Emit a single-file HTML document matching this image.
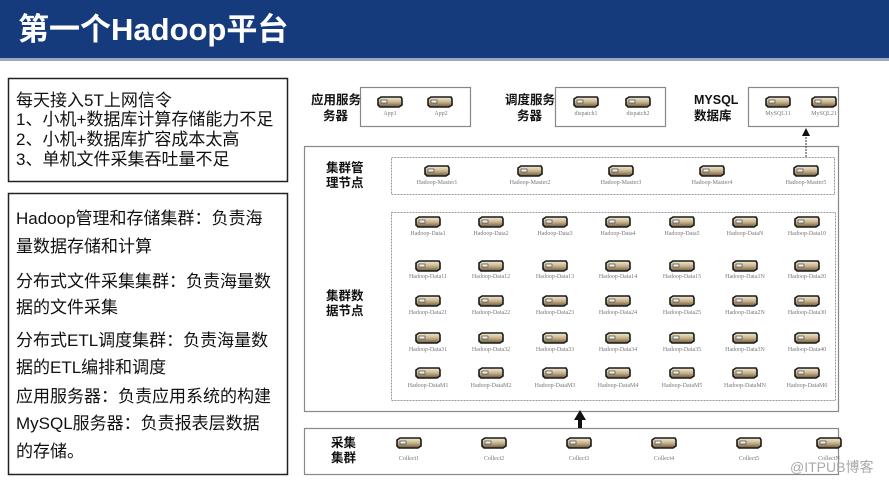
<!DOCTYPE html>
<html><head><meta charset="utf-8"><style>
body{margin:0;background:#fff}
svg{display:block}
.cj{font-family:"Liberation Sans","Noto Sans CJK SC",sans-serif}
.lb{font-family:"Liberation Serif","Noto Serif CJK SC",serif;font-size:6px;fill:#777;text-anchor:middle}
.hd{font-family:"Liberation Sans","Noto Sans CJK SC",sans-serif;font-weight:bold;font-size:12.5px;fill:#111}
.lt{font-family:"Liberation Sans","Noto Sans CJK SC",sans-serif;font-size:17px;fill:#111}
</style></head><body>
<svg width="889" height="484" viewBox="0 0 889 484" xmlns="http://www.w3.org/2000/svg">
<defs>
<linearGradient id="g" x1="0" y1="0" x2="0" y2="1"><stop offset="0" stop-color="#f4ecd8"/><stop offset="0.5" stop-color="#c9b48c"/><stop offset="1" stop-color="#6b5a3c"/></linearGradient>
<symbol id="s" viewBox="0 0 26 12" width="26" height="12">
<polygon points="1,3 4,1 24,1 25,3 25,9 22,11 3,11 1,9" fill="url(#g)" stroke="#1a1a1a" stroke-width="1.6"/>
<rect x="4" y="4" width="6" height="3" fill="#eee" stroke="#333" stroke-width="0.6"/>
</symbol>
</defs>
<rect x="0" y="0" width="889" height="58" fill="#153b7c"/>
<rect x="0" y="58" width="889" height="3" fill="#9aa7bd"/>
<text x="18" y="40" class="cj" font-size="31" font-weight="bold" fill="#fff">第一个Hadoop平台</text>

<rect x="8.5" y="78.5" width="279" height="103" fill="none" stroke="#222" stroke-width="1.5"/>
<text class="lt" x="16" y="106">每天接入5T上网信令</text>
<text class="lt" x="16" y="125">1、小机+数据库计算存储能力不足</text>
<text class="lt" x="16" y="145">2、小机+数据库扩容成本太高</text>
<text class="lt" x="16" y="165">3、单机文件采集吞吐量不足</text>

<rect x="8.5" y="193.5" width="279" height="281" fill="none" stroke="#222" stroke-width="1.5"/>
<text class="lt" x="16" y="224">Hadoop管理和存储集群：负责海</text>
<text class="lt" x="16" y="252">量数据存储和计算</text>
<text class="lt" x="16" y="287">分布式文件采集集群：负责海量数</text>
<text class="lt" x="16" y="313">据的文件采集</text>
<text class="lt" x="16" y="346">分布式ETL调度集群：负责海量数</text>
<text class="lt" x="16" y="373">据的ETL编排和调度</text>
<text class="lt" x="16" y="402">应用服务器：负责应用系统的构建</text>
<text class="lt" x="16" y="429">MySQL服务器：负责报表层数据</text>
<text class="lt" x="16" y="457">的存储。</text>

<g stroke="#888" stroke-width="1.2" fill="none">
<rect x="360.5" y="87.5" width="110" height="39"/>
<rect x="555.5" y="87.5" width="110" height="39"/>
<rect x="748.5" y="87.5" width="90" height="39"/>
<rect x="304.5" y="146.5" width="534" height="265"/>
<rect x="304.5" y="428.5" width="534" height="46"/>
</g>
<g stroke="#999" stroke-width="1" fill="none" stroke-dasharray="2,1">
<rect x="391.5" y="157.5" width="443" height="37"/>
<rect x="391.5" y="212.5" width="444" height="188"/>
</g>
<text class="hd" x="311" y="104">应用服务</text><text class="hd" x="323" y="120">务器</text>
<text class="hd" x="505" y="104">调度服务</text><text class="hd" x="517" y="120">务器</text>
<text class="hd" x="694" y="104">MYSQL</text><text class="hd" x="694" y="120">数据库</text>
<text class="hd" x="326" y="172">集群管</text><text class="hd" x="326" y="187">理节点</text>
<text class="hd" x="326" y="300">集群数</text><text class="hd" x="326" y="315">据节点</text>
<text class="hd" x="331" y="447">采集</text><text class="hd" x="331" y="462">集群</text>

<line x1="806" y1="157" x2="806" y2="135" stroke="#333" stroke-dasharray="2,1"/>
<polygon points="806,128 802,136 810,136" fill="#111"/>
<rect x="578" y="419" width="4" height="9" fill="#111"/>
<polygon points="580,410 574,420 586,420" fill="#111"/>

<use href="#s" x="377" y="96"/><use href="#s" x="427" y="96"/>
<text class="lb" x="390" y="115">App1</text><text class="lb" x="441" y="115">App2</text>
<use href="#s" x="573" y="96"/><use href="#s" x="625" y="96"/>
<text class="lb" x="586" y="115">dispatch1</text><text class="lb" x="638" y="115">dispatch2</text>
<use href="#s" x="765" y="96"/><use href="#s" x="811" y="96"/>
<text class="lb" x="778" y="115">MySQL11</text><text class="lb" x="824" y="115">MySQL21</text>

<use href="#s" x="424" y="165"/><use href="#s" x="517" y="165"/><use href="#s" x="608" y="165"/><use href="#s" x="699" y="165"/><use href="#s" x="793" y="165"/>
<text class="lb" x="437" y="184">Hadoop-Master1</text><text class="lb" x="530" y="184">Hadoop-Master2</text><text class="lb" x="621" y="184">Hadoop-Master3</text><text class="lb" x="712" y="184">Hadoop-Master4</text><text class="lb" x="806" y="184">Hadoop-Master5</text>

<g>
<use href="#s" x="415" y="216"/><use href="#s" x="478" y="216"/><use href="#s" x="542" y="216"/><use href="#s" x="605" y="216"/><use href="#s" x="669" y="216"/><use href="#s" x="732" y="216"/><use href="#s" x="794" y="216"/>
<use href="#s" x="415" y="260"/><use href="#s" x="478" y="260"/><use href="#s" x="542" y="260"/><use href="#s" x="605" y="260"/><use href="#s" x="669" y="260"/><use href="#s" x="732" y="260"/><use href="#s" x="794" y="260"/>
<use href="#s" x="415" y="295"/><use href="#s" x="478" y="295"/><use href="#s" x="542" y="295"/><use href="#s" x="605" y="295"/><use href="#s" x="669" y="295"/><use href="#s" x="732" y="295"/><use href="#s" x="794" y="295"/>
<use href="#s" x="415" y="332"/><use href="#s" x="478" y="332"/><use href="#s" x="542" y="332"/><use href="#s" x="605" y="332"/><use href="#s" x="669" y="332"/><use href="#s" x="732" y="332"/><use href="#s" x="794" y="332"/>
<use href="#s" x="415" y="367"/><use href="#s" x="478" y="367"/><use href="#s" x="542" y="367"/><use href="#s" x="605" y="367"/><use href="#s" x="669" y="367"/><use href="#s" x="732" y="367"/><use href="#s" x="794" y="367"/>
</g>
<text class="lb" x="428" y="235">Hadoop-Data1</text><text class="lb" x="491" y="235">Hadoop-Data2</text><text class="lb" x="555" y="235">Hadoop-Data3</text><text class="lb" x="618" y="235">Hadoop-Data4</text><text class="lb" x="682" y="235">Hadoop-Data5</text><text class="lb" x="745" y="235">Hadoop-DataN</text><text class="lb" x="807" y="235">Hadoop-Data10</text>
<text class="lb" x="428" y="278">Hadoop-Data11</text><text class="lb" x="491" y="278">Hadoop-Data12</text><text class="lb" x="555" y="278">Hadoop-Data13</text><text class="lb" x="618" y="278">Hadoop-Data14</text><text class="lb" x="682" y="278">Hadoop-Data15</text><text class="lb" x="745" y="278">Hadoop-Data1N</text><text class="lb" x="807" y="278">Hadoop-Data20</text>
<text class="lb" x="428" y="314">Hadoop-Data21</text><text class="lb" x="491" y="314">Hadoop-Data22</text><text class="lb" x="555" y="314">Hadoop-Data23</text><text class="lb" x="618" y="314">Hadoop-Data24</text><text class="lb" x="682" y="314">Hadoop-Data25</text><text class="lb" x="745" y="314">Hadoop-Data2N</text><text class="lb" x="807" y="314">Hadoop-Data30</text>
<text class="lb" x="428" y="351">Hadoop-Data31</text><text class="lb" x="491" y="351">Hadoop-Data32</text><text class="lb" x="555" y="351">Hadoop-Data33</text><text class="lb" x="618" y="351">Hadoop-Data34</text><text class="lb" x="682" y="351">Hadoop-Data35</text><text class="lb" x="745" y="351">Hadoop-Data3N</text><text class="lb" x="807" y="351">Hadoop-Data40</text>
<text class="lb" x="428" y="387">Hadoop-DataM1</text><text class="lb" x="491" y="387">Hadoop-DataM2</text><text class="lb" x="555" y="387">Hadoop-DataM3</text><text class="lb" x="618" y="387">Hadoop-DataM4</text><text class="lb" x="682" y="387">Hadoop-DataM5</text><text class="lb" x="745" y="387">Hadoop-DataMN</text><text class="lb" x="807" y="387">Hadoop-DataM0</text>

<use href="#s" x="396" y="437"/><use href="#s" x="481" y="437"/><use href="#s" x="566" y="437"/><use href="#s" x="651" y="437"/><use href="#s" x="736" y="437"/><use href="#s" x="816" y="437"/>
<text class="lb" x="409" y="460">Collect1</text><text class="lb" x="494" y="460">Collect2</text><text class="lb" x="579" y="460">Collect3</text><text class="lb" x="664" y="460">Collect4</text><text class="lb" x="749" y="460">Collect5</text><text class="lb" x="829" y="460">CollectN</text>

<text x="790" y="472" class="cj" font-size="14" fill="#aaa">@ITPUB博客</text>
</svg>
</body></html>
